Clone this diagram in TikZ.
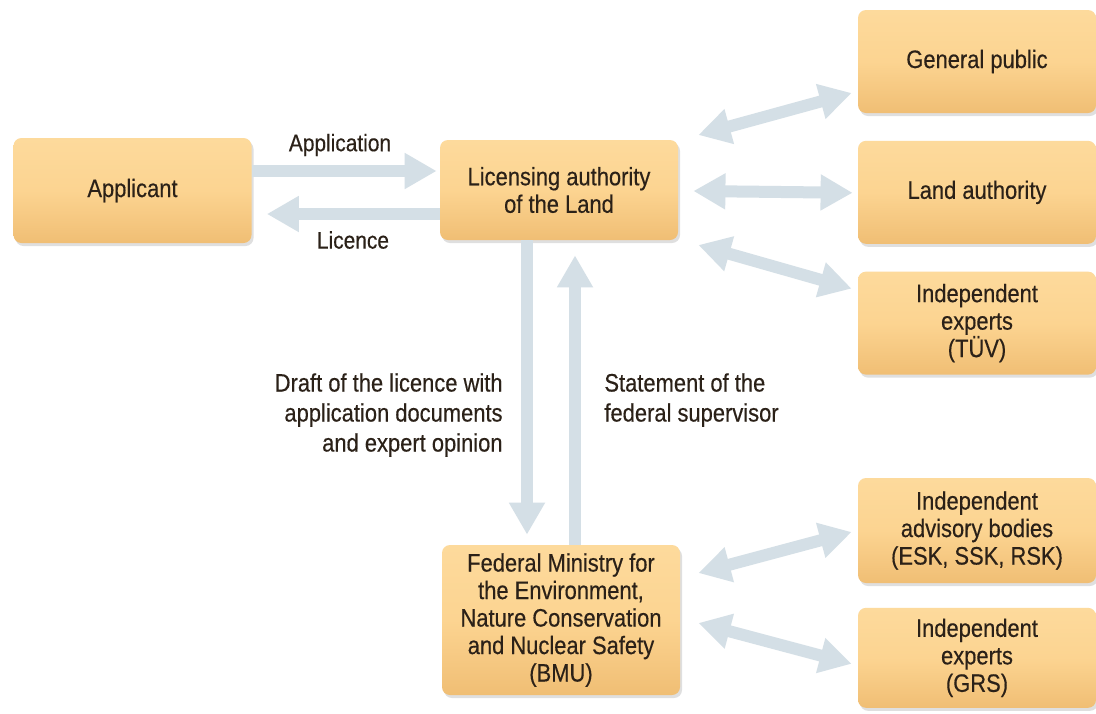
\documentclass[tikz,border=0pt]{standalone}
\usepackage{fontspec}
\setmainfont{Liberation Sans}[FakeStretch=0.87, FakeBold=0.35]
\usetikzlibrary{positioning,arrows.meta,calc,shadows}
\definecolor{boxtop}{HTML}{FDDA9C}
\definecolor{boxmid}{HTML}{FCD491}
\definecolor{boxbot}{HTML}{F0BE74}
\definecolor{flowc}{HTML}{D4DFE6}
\definecolor{txtc}{HTML}{2B2118}

\begin{document}
\begin{tikzpicture}[x=0.5pt, y=-0.5pt, node distance=13.5pt,
    font=\fontsize{12.6}{13.75}\selectfont, text=txtc,
    box/.style={rounded corners=4pt, top color=boxtop, bottom color=boxbot,
      middle color=boxmid, minimum width=119pt, minimum height=51.5pt,
      align=center, drop shadow={shadow xshift=1pt, shadow yshift=-1.5pt, opacity=.25}},
    flow/.style={draw=flowc, line width=6pt, -{Triangle[length=16pt,width=17pt]}},
    flowboth/.style={flow, {Triangle[length=16pt,width=17pt]}-{Triangle[length=16pt,width=17pt]}},
    lbl/.style={inner sep=0pt, font=\fontsize{12}{15}\selectfont}]
  \path[use as bounding box, fill=white] (0,0) rectangle (1096,713);

  % boxes
  \node[box, minimum height=52.5pt] (appl) at (132.5,190.5) {Applicant};
  \node[box, minimum height=50pt] (lic) at (559,190) {Licensing authority\\of the Land};
  \node[box, minimum height=75pt] (bmu) at (561,620) {Federal Ministry for\\the Environment,\\Nature Conservation\\and Nuclear Safety\\(BMU)};

  \node[box] (pub) at (977,61.5) {General public};
  \node[box, below=of pub] (land) {Land authority};
  \node[box, below=of land] (tuev) {Independent\\experts\\(TÜV)};

  \node[box, minimum height=52.5pt] (adv) at (977,530.5) {Independent\\advisory bodies\\(ESK, SSK, RSK)};
  \node[box, minimum height=50pt, below=12pt of adv] (grs) {Independent\\experts\\(GRS)};

  % applicant <-> land
  \draw[flow] ($(appl.east)+(0,-19.5)$) -- ($(lic.west)+(-3,-19)$);
  \draw[flow] ($(lic.west)+(0,24)$) -- ($(appl.east)+(15,23.5)$);
  \node[lbl] (lapp) at (340,145) {Application};
  \node[lbl] (llic) at (353,240) {Licence};

  % land <-> federal
  \draw[flow] ($(lic.south)+(-32,0)$) -- ($(bmu.north)+(-34,-10)$);
  \draw[flow] ($(bmu.north)+(14,0)$) -- ($(lic.south)+(16,15)$);
  \node[lbl, align=right, anchor=east, font=\fontsize{12.6}{15}\selectfont] (ldraft) at (503,415)
    {Draft of the licence with\\application documents\\and expert opinion};
  \node[lbl, align=left, anchor=west, font=\fontsize{12.6}{15}\selectfont] (lstat) at (604,400)
    {Statement of the\\federal supervisor};

  % consultations
  \draw[flowboth] ($(lic.east)+(20,-55)$) -- ($(pub.west)+(-6,31.5)$);
  \draw[flowboth] ($(lic.east)+(15,1)$) -- ($(land.west)+(-5,0.5)$);
  \draw[flowboth] ($(lic.east)+(20,55)$) -- ($(tuev.west)+(-6,-34.5)$);
  \draw[flowboth] ($(bmu.east)+(18,-47)$) -- ($(adv.west)+(-6,1.5)$);
  \draw[flowboth] ($(bmu.east)+(18,3)$) -- ($(grs.west)+(-6,6)$);
\end{tikzpicture}
\end{document}
